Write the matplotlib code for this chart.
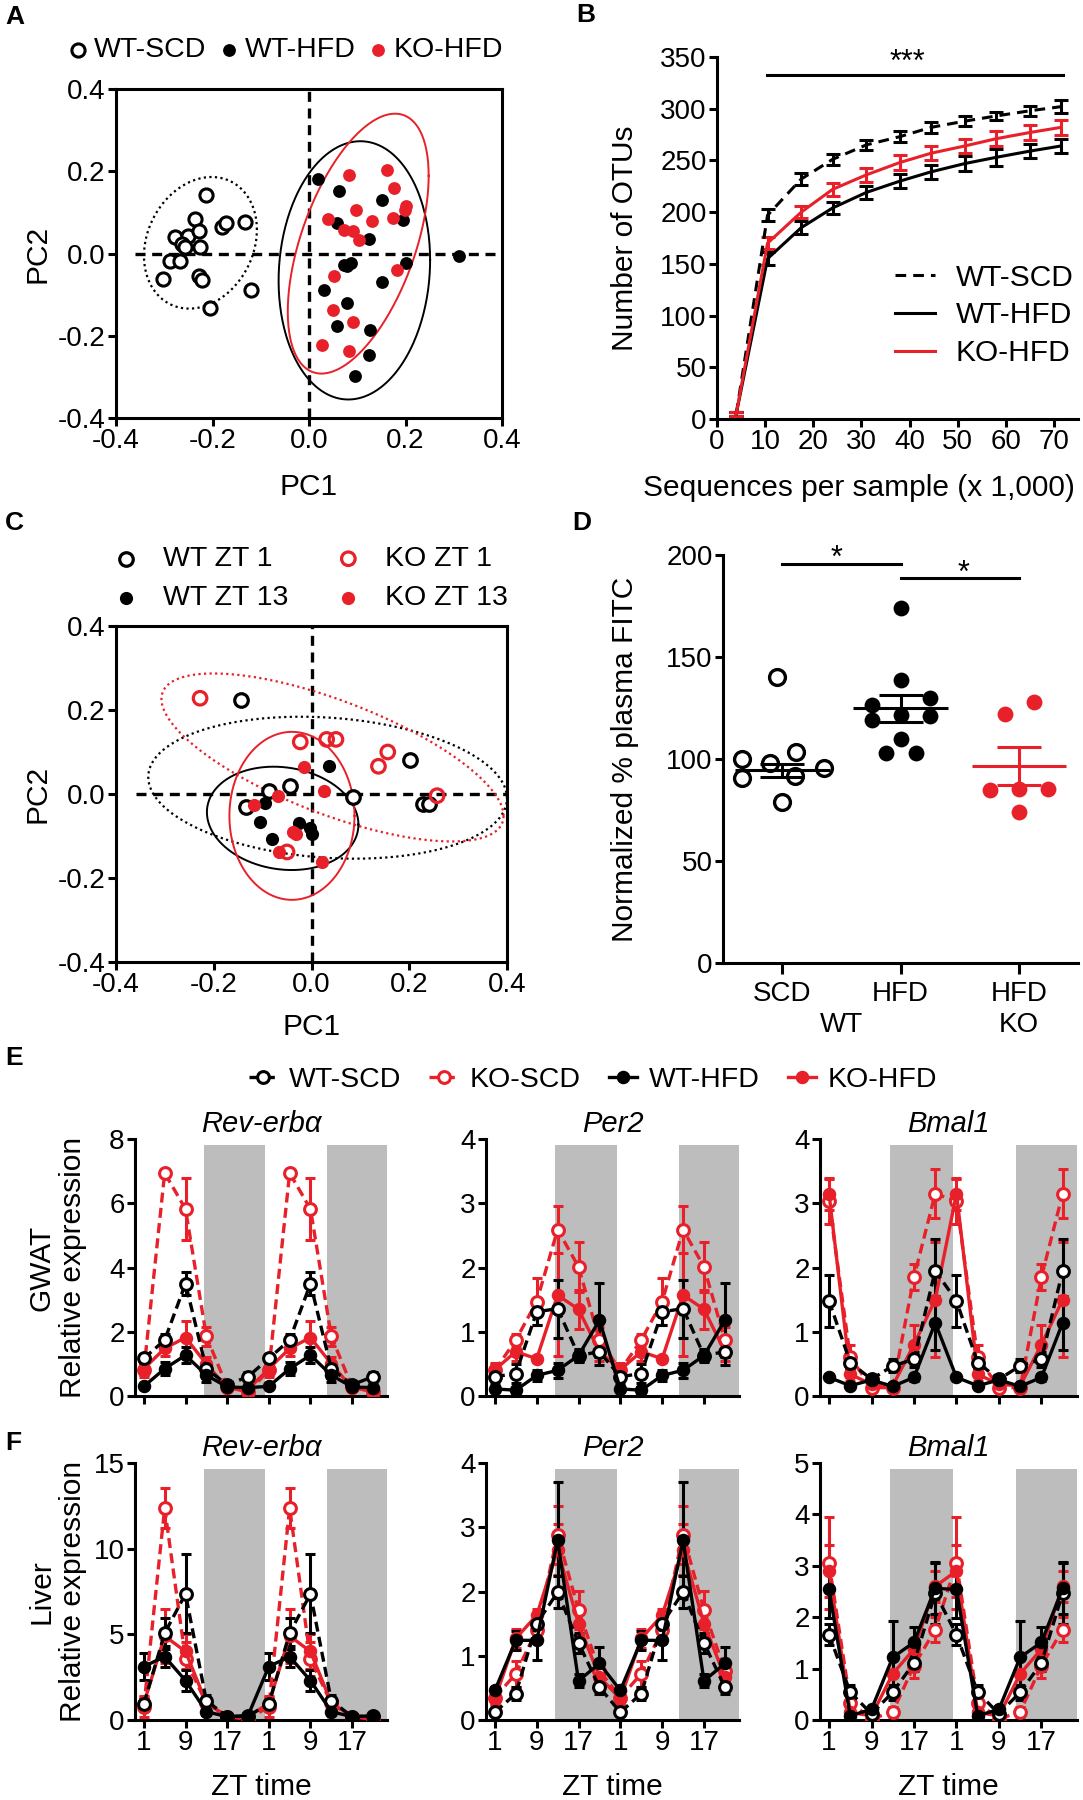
import matplotlib

matplotlib.use("Agg")

import matplotlib.pyplot as plt
import numpy as np

# ---------------- panel A: PCA by diet ----------------
A_WT_SCD_PC1 = [-0.213, -0.236, -0.278, -0.250, -0.228, -0.264, -0.257, -0.226, -0.181,
                -0.172, -0.132, -0.289, -0.267, -0.302, -0.227, -0.222, -0.121, -0.205]
A_WT_SCD_PC2 = [0.143, 0.084, 0.040, 0.043, 0.054, 0.024, 0.016, 0.016, 0.065,
                0.074, 0.076, -0.019, -0.019, -0.062, -0.054, -0.064, -0.088, -0.133]
A_WT_HFD_PC1 = [0.018, 0.063, 0.151, 0.058, 0.195, 0.125, 0.072, 0.087, 0.078,
                0.200, 0.310, 0.151, 0.032, 0.078, 0.058, 0.127, 0.125, 0.096]
A_WT_HFD_PC2 = [0.182, 0.153, 0.131, 0.073, 0.081, 0.035, -0.029, -0.023, -0.031,
                -0.024, -0.007, -0.070, -0.089, -0.120, -0.177, -0.185, -0.248, -0.299]
A_KO_HFD_PC1 = [0.082, 0.161, 0.177, 0.200, 0.199, 0.098, 0.040, 0.130, 0.175,
                0.072, 0.091, 0.104, 0.182, 0.051, 0.050, 0.092, 0.027, 0.082]
A_KO_HFD_PC2 = [0.192, 0.204, 0.159, 0.115, 0.105, 0.105, 0.084, 0.078, 0.086,
                0.056, 0.054, 0.034, -0.039, -0.055, -0.137, -0.167, -0.222, -0.238]
# confidence ellipses: centre x, centre y, half width, half height, tilt phase
A_ELL_WT_SCD = (-0.225, 0.026, 0.117, 0.160, 0.20)
A_ELL_WT_HFD = (0.094, -0.041, 0.157, 0.314, 0.08)
A_ELL_KO_HFD = (0.102, 0.024, 0.146, 0.316, 0.55)

# ---------------- panel B: rarefaction ----------------
B_SEQS = [4, 10.5, 17.5, 24, 31, 38, 44.5, 51.5, 58, 65, 71.5]
B_WT_SCD = [5, 197, 232, 251, 265, 273, 282, 288, 293, 298, 302]
B_WT_SCD_ERR = [2, 6, 6, 5, 5, 5, 5, 5, 4, 5, 6]
B_WT_HFD = [5, 155, 185, 204, 219, 230, 239, 247, 253, 259, 264]
B_WT_HFD_ERR = [2, 6, 6, 6, 6, 7, 7, 7, 8, 7, 7]
B_KO_HFD = [5, 170, 200, 222, 236, 248, 257, 264, 271, 277, 282]
B_KO_HFD_ERR = [2, 6, 6, 6, 7, 7, 7, 7, 7, 7, 7]

# ---------------- panel C: PCA by time ----------------
C_WT_ZT1_PC1 = [-0.145, -0.086, -0.045, -0.134, 0.085, 0.201, 0.228, 0.240]
C_WT_ZT1_PC2 = [0.225, 0.007, 0.019, -0.032, -0.007, 0.081, -0.024, -0.024]
C_KO_ZT1_PC1 = [-0.228, -0.023, 0.031, 0.050, 0.137, 0.156, 0.257, -0.050]
C_KO_ZT1_PC2 = [0.228, 0.124, 0.130, 0.130, 0.066, 0.100, -0.004, -0.138]
C_WT_ZT13_PC1 = [0.035, -0.095, -0.105, -0.081, -0.025, -0.003, 0.001]
C_WT_ZT13_PC2 = [0.066, -0.021, -0.066, -0.106, -0.069, -0.082, -0.096]
C_KO_ZT13_PC1 = [-0.016, 0.025, -0.068, -0.117, -0.037, -0.031, -0.066, 0.021]
C_KO_ZT13_PC2 = [0.065, 0.007, -0.005, -0.027, -0.090, -0.096, -0.138, -0.162]
C_ELL_WT_ZT1 = (0.033, 0.015, 0.367, 0.169, -0.15)
C_ELL_KO_ZT1 = (0.043, 0.087, 0.350, 0.200, -0.77)
C_ELL_WT_ZT13 = (-0.059, -0.058, 0.155, 0.123, -0.12)
C_ELL_KO_ZT13 = (-0.040, -0.052, 0.128, 0.200, 0.0)

# ---------------- panel D: FITC ----------------
D_GROUPS = ["SCD", "HFD", "HFD"]
D_SCD_JITTER = [-0.04, -0.34, -0.10, 0.12, 0.35, -0.34, 0.11, 0.0]
D_SCD = [140.3, 99.8, 97.8, 103.5, 95.8, 90.9, 91.6, 79]
D_HFD_JITTER = [0, 0, -0.24, 0.25, -0.24, 0, 0.25, 0, -0.12, 0.13]
D_HFD = [173.8, 138.7, 126.4, 129.7, 119, 121.5, 121, 110, 103, 103]
D_KO_JITTER = [-0.12, 0.13, -0.24, 0, 0.25, 0]
D_KO = [122, 127.7, 85, 85.5, 85.5, 74]
D_MEAN = [94.5, 124.8, 96.6]
D_SEM = [3.2, 6.7, 9.2]

# ---------------- panels E/F: clock genes ----------------
ZT = [1, 5, 9, 13, 17, 21]
ZT_TICKS = [1, 9, 17, 25, 33, 41]
ZT_TICK_LABELS = ["1", "9", "17", "1", "9", "17"]
DARK_PERIODS = [(12.5, 24.3), (36.2, 48.5)]
GROUPS = ["WT-SCD", "KO-SCD", "WT-HFD", "KO-HFD"]

GWAT_REV = [[1.17, 1.74, 3.50, 0.85, 0.35, 0.60], [0.80, 6.94, 5.82, 1.86, 0.28, 0.12],
            [0.30, 0.85, 1.27, 0.65, 0.28, 0.26], [0.85, 1.48, 1.82, 1.00, 0.25, 0.20]]
GWAT_REV_SEM = [[0.15, 0.2, 0.35, 0.2, 0.1, 0.15], [0.2, 0.05, 0.96, 0.3, 0.1, 0.05],
                [0.05, 0.2, 0.25, 0.2, 0.05, 0.05], [0.2, 0.25, 0.5, 0.2, 0.05, 0.05]]
GWAT_PER2 = [[0.30, 0.35, 1.31, 1.36, 0.63, 0.69], [0.40, 0.87, 1.47, 2.59, 2.01, 0.87],
             [0.11, 0.09, 0.32, 0.40, 0.63, 1.18], [0.41, 0.69, 0.58, 1.57, 1.35, 0.69]]
GWAT_PER2_SEM = [[0.1, 0.15, 0.2, 0.45, 0.1, 0.2], [0.1, 0.1, 0.37, 0.37, 0.39, 0.2],
                 [0.05, 0.05, 0.08, 0.12, 0.08, 0.58], [0.1, 0.15, 0.05, 0.95, 0.3, 0.15]]
GWAT_BMAL1 = [[1.48, 0.52, 0.26, 0.47, 0.57, 1.95], [3.03, 0.60, 0.13, 0.13, 1.85, 3.15],
              [0.29, 0.16, 0.25, 0.15, 0.29, 1.14], [3.15, 0.34, 0.18, 0.16, 0.80, 1.50]]
GWAT_BMAL1_SEM = [[0.4, 0.1, 0.05, 0.1, 0.12, 0.5], [0.35, 0.2, 0.05, 0.05, 0.2, 0.38],
                  [0.03, 0.03, 0.05, 0.03, 0.05, 0.42], [0.25, 0.1, 0.05, 0.05, 0.3, 0.9]]

LIVER_REV = [[0.94, 5.07, 7.36, 1.13, 0.20, 0.23], [0.78, 12.37, 3.55, 0.97, 0.19, 0.04],
             [3.12, 3.70, 2.30, 0.49, 0.19, 0.25], [0.97, 4.90, 4.00, 1.00, 0.20, 0.20]]
LIVER_REV_SEM = [[0.3, 0.9, 2.3, 0.3, 0.05, 0.05], [0.6, 1.15, 1.0, 0.3, 0.05, 0.03],
                 [0.8, 0.6, 0.6, 0.2, 0.05, 0.05], [0.4, 1.6, 1.0, 0.3, 0.05, 0.05]]
LIVER_PER2 = [[0.12, 0.41, 1.50, 1.99, 1.20, 0.51], [0.35, 0.72, 1.40, 2.88, 1.71, 0.77],
              [0.46, 1.24, 1.24, 2.80, 0.61, 0.88], [0.33, 1.27, 1.63, 2.65, 1.50, 0.67]]
LIVER_PER2_SEM = [[0.05, 0.1, 0.15, 0.25, 0.15, 0.1], [0.1, 0.2, 0.2, 0.45, 0.3, 0.15],
                  [0.05, 0.15, 0.3, 0.9, 0.1, 0.25], [0.1, 0.15, 0.1, 0.4, 0.2, 0.15]]
LIVER_BMAL1 = [[1.66, 0.54, 0.12, 0.54, 1.11, 2.47], [3.05, 0.34, 0.02, 0.16, 1.06, 1.76],
               [2.54, 0.08, 0.21, 1.22, 1.51, 2.56], [2.90, 0.15, 0.08, 0.90, 1.38, 2.60]]
LIVER_BMAL1_SEM = [[0.2, 0.15, 0.05, 0.15, 0.15, 0.6], [0.9, 0.2, 0.02, 0.1, 0.25, 0.25],
                   [0.55, 0.05, 0.05, 0.7, 0.3, 0.5], [0.5, 0.05, 0.05, 0.3, 0.2, 0.3]]

W, H = 1083, 1800
RED = "#e8202a"
SHADE = "#bdbdbd"
LW = 2.2
DASH = (0, (3, 2))
DOT = (0, (1, 1.5))

plt.rcParams["font.family"] = ["Liberation Sans", "DejaVu Sans"]
plt.rcParams["axes.linewidth"] = LW
plt.rcParams["xtick.major.width"] = LW
plt.rcParams["ytick.major.width"] = LW
plt.rcParams["xtick.major.size"] = 5.5
plt.rcParams["ytick.major.size"] = 5.5
plt.rcParams["xtick.labelsize"] = 20
plt.rcParams["ytick.labelsize"] = 20
plt.rcParams["axes.labelsize"] = 21.5

fig = plt.figure(figsize=(W / 100, H / 100), dpi=100)


def add_axes_px(box):
    left, top, right, bottom = box
    return fig.add_axes([left / W, 1 - bottom / H, (right - left) / W, (bottom - top) / H])


def place_labels(ax, box, xlabel=None, x_y=None, ylabel=None, y_x=None, x_x=None):
    left, top, right, bottom = box
    if xlabel is not None:
        ax.set_xlabel(xlabel, va="center")
        xf = 0.5 if x_x is None else (x_x - left) / (right - left)
        ax.xaxis.set_label_coords(xf, (bottom - x_y) / (bottom - top))
    if ylabel is not None:
        ax.set_ylabel(ylabel, va="center")
        ax.yaxis.set_label_coords((y_x - left) / (right - left), 0.5)


def draw_ellipse(ax, params, **kw):
    cx, cy, rx, ry, phi = params
    t = np.linspace(0, 2 * np.pi, 300)
    ax.plot(cx + rx * np.cos(t), cy + ry * np.sin(t + phi), **kw)


def pca_frame(ax):
    ticks = [-0.4, -0.2, 0.0, 0.2, 0.4]
    ax.set_xlim(-0.4, 0.4)
    ax.set_ylim(-0.4, 0.4)
    ax.set_xticks(ticks)
    ax.set_yticks(ticks)
    ax.set_xticklabels([f"{t:.1f}" for t in ticks])
    ax.set_yticklabels([f"{t:.1f}" for t in ticks])
    ax.tick_params(pad=2)
    ax.hlines(0, -0.36, 0.4, colors="black", linestyles=DASH, lw=2.4, zorder=1)
    ax.vlines(0, -0.4, 0.4, colors="black", linestyles=DASH, lw=2.4, zorder=1)


def panel_letter(text, x, y):
    fig.text(x / W, 1 - y / H, text, fontsize=19, fontweight="bold", ha="left", va="center")


# ---------------- A ----------------
A_BOX = (116, 89, 502, 418)
ax = add_axes_px(A_BOX)
pca_frame(ax)
draw_ellipse(ax, A_ELL_WT_SCD, color="black", lw=1.6, ls=DOT)
draw_ellipse(ax, A_ELL_WT_HFD, color="black", lw=1.4)
draw_ellipse(ax, A_ELL_KO_HFD, color=RED, lw=1.4)
h1 = ax.scatter(A_WT_SCD_PC1, A_WT_SCD_PC2, s=90, facecolors="white", edgecolors="black",
                linewidths=2.2, zorder=3)
h2 = ax.scatter(A_WT_HFD_PC1, A_WT_HFD_PC2, s=85, color="black", lw=0, zorder=3)
h3 = ax.scatter(A_KO_HFD_PC1, A_KO_HFD_PC2, s=85, color=RED, lw=0, zorder=4)
ax.legend([h1, h2, h3], ["WT-SCD", "WT-HFD", "KO-HFD"], ncol=3, loc="center",
          bbox_to_anchor=(0.438, 1.118), frameon=False, fontsize=20.5, handletextpad=0.15,
          columnspacing=0.4, handlelength=0.8, borderpad=0)
place_labels(ax, A_BOX, "PC1", 487, "PC2", 37)
panel_letter("A", 5, 17)

# ---------------- B ----------------
B_BOX = (717, 57, 1078, 419)
ax = add_axes_px(B_BOX)
for s in ("top", "right"):
    ax.spines[s].set_visible(False)
ax.errorbar(B_SEQS, B_WT_SCD, yerr=B_WT_SCD_ERR, color="black", ls=(0, (3.5, 2.3)), lw=LW,
            capsize=4.7, capthick=LW, elinewidth=LW, label="WT-SCD")
ax.errorbar(B_SEQS, B_WT_HFD, yerr=B_WT_HFD_ERR, color="black", lw=LW,
            capsize=4.7, capthick=LW, elinewidth=LW, label="WT-HFD")
ax.errorbar(B_SEQS, B_KO_HFD, yerr=B_KO_HFD_ERR, color=RED, lw=LW,
            capsize=4.7, capthick=LW, elinewidth=LW, label="KO-HFD")
ax.set_xlim(0, 75)
ax.set_ylim(0, 350)
ax.set_xticks(range(0, 71, 10))
ax.set_yticks(range(0, 351, 50))
ax.tick_params(pad=2)
ax.plot([10.4, 71.9], [333, 333], color="black", lw=LW, clip_on=False)
ax.text(39.6, 337, "***", ha="center", va="baseline", fontsize=22, clip_on=False)
handles, labels = ax.get_legend_handles_labels()
ax.legend([h[0] for h in handles], labels, loc="center", bbox_to_anchor=(0.74, 0.286),
          frameon=False, fontsize=21.5, handlelength=1.35, handletextpad=0.7,
          labelspacing=0.32, borderpad=0)
place_labels(ax, B_BOX, "Sequences per sample (x 1,000)", 488, "Number of OTUs", 625,
             x_x=859)
panel_letter("B", 576, 15)

# ---------------- C ----------------
C_BOX = (116, 626, 507, 962)
ax = add_axes_px(C_BOX)
pca_frame(ax)
draw_ellipse(ax, C_ELL_WT_ZT1, color="black", lw=1.6, ls=DOT)
draw_ellipse(ax, C_ELL_KO_ZT1, color=RED, lw=1.6, ls=DOT)
draw_ellipse(ax, C_ELL_WT_ZT13, color="black", lw=1.4)
draw_ellipse(ax, C_ELL_KO_ZT13, color=RED, lw=1.4)
c1 = ax.scatter(C_WT_ZT1_PC1, C_WT_ZT1_PC2, s=95, facecolors="white", edgecolors="black",
                linewidths=2.3, zorder=3)
c3 = ax.scatter(C_WT_ZT13_PC1, C_WT_ZT13_PC2, s=90, color="black", lw=0, zorder=3)
c4 = ax.scatter(C_KO_ZT13_PC1, C_KO_ZT13_PC2, s=90, color=RED, lw=0, zorder=4)
c2 = ax.scatter(C_KO_ZT1_PC1, C_KO_ZT1_PC2, s=95, facecolors="none", edgecolors=RED,
                linewidths=2.3, zorder=5)
ax.legend([c1, c3, c2, c4], ["WT ZT 1", "WT ZT 13", "KO ZT 1", "KO ZT 13"], ncol=2,
          loc="center", bbox_to_anchor=(0.5, 1.141), frameon=False, fontsize=20.5,
          handletextpad=0.9, columnspacing=1.7, handlelength=0.8, labelspacing=0.45,
          borderpad=0)
place_labels(ax, C_BOX, "PC1", 1027, "PC2", 37)
panel_letter("C", 5, 523)

# ---------------- D ----------------
D_BOX = (723, 555, 1078, 963)
ax = add_axes_px(D_BOX)
for s in ("top", "right"):
    ax.spines[s].set_visible(False)
ax.scatter(np.add(0, D_SCD_JITTER), D_SCD, s=130, facecolors="white", edgecolors="black",
           linewidths=2.4, zorder=3)
ax.scatter(np.add(1, D_HFD_JITTER), D_HFD, s=130, color="black", lw=0, zorder=3)
ax.scatter(np.add(2, D_KO_JITTER), D_KO, s=130, color=RED, lw=0, zorder=3)
for i, colour in enumerate(["black", "black", RED]):
    ax.hlines(D_MEAN[i], i - 0.4, i + 0.4, colors=colour, lw=LW, zorder=4)
    ax.errorbar(i, D_MEAN[i], yerr=D_SEM[i], color=colour, capsize=15.5, capthick=LW,
                elinewidth=LW, zorder=4)
ax.set_xlim(-0.5, 2.5)
ax.set_ylim(0, 200)
ax.set_yticks(range(0, 201, 50))
ax.set_xticks(range(len(D_GROUPS)))
ax.set_xticklabels(D_GROUPS)
ax.tick_params(axis="x", length=8, pad=5)
ax.tick_params(axis="y", pad=2)
ax.annotate("WT", xy=(0.5, 0), xycoords=("data", "axes fraction"), xytext=(0, -62 * 0.72),
            textcoords="offset points", ha="center", va="center", fontsize=20)
ax.annotate("KO", xy=(2, 0), xycoords=("data", "axes fraction"), xytext=(0, -62 * 0.72),
            textcoords="offset points", ha="center", va="center", fontsize=20)
ax.plot([0, 1], [195.5, 195.5], color="black", lw=LW, clip_on=False)
ax.plot([1, 2], [188.5, 188.5], color="black", lw=LW, clip_on=False)
ax.text(0.46, 194, "*", ha="center", va="baseline", fontsize=22, clip_on=False)
ax.text(1.53, 187, "*", ha="center", va="baseline", fontsize=22, clip_on=False)
place_labels(ax, D_BOX, ylabel="Normalized % plasma FITC", y_x=625)
panel_letter("D", 572, 523)

# ---------------- E / F ----------------
CLOCK_DASH = (0, (3, 1.6))
STYLES = {
    "WT-SCD": dict(color="black", ls=CLOCK_DASH, mfc="white", ms=8.5),
    "KO-SCD": dict(color=RED, ls=CLOCK_DASH, mfc="white", ms=8.5),
    "WT-HFD": dict(color="black", ls="-", mfc="black", ms=7.5),
    "KO-HFD": dict(color=RED, ls="-", mfc=RED, ms=7.5),
}
DRAW_ORDER = [1, 3, 0, 2]
COLS = [(135, 387), (486, 739), (820, 1077)]
ROWS = {"E": (1139, 1396), "F": (1463, 1720)}

x_days = ZT + [z + 24 for z in ZT]
legend_handles = {}


def clock_panel(box, ymax, yticks, means, sems, title, show_xlabels):
    ax = add_axes_px(box)
    for s in ("top", "right"):
        ax.spines[s].set_visible(False)
    for start, end in DARK_PERIODS:
        ax.axvspan(start, end, ymin=0, ymax=0.975, color=SHADE, lw=0, zorder=0)
    for gi in DRAW_ORDER:
        name = GROUPS[gi]
        st = STYLES[name]
        line = ax.errorbar(x_days, means[gi] + means[gi], yerr=sems[gi] + sems[gi],
                           color=st["color"], ls=st["ls"], lw=2.4, marker="o", ms=st["ms"],
                           mfc=st["mfc"], mec=st["color"], mew=2.2, capsize=3.4,
                           capthick=2.2, elinewidth=2.2, zorder=3)
        legend_handles[name] = line[0]
    ax.set_xlim(-0.7, 47.7)
    ax.set_ylim(0, ymax)
    ax.set_yticks(yticks)
    ax.set_xticks(ZT_TICKS)
    if show_xlabels:
        ax.set_xticklabels(ZT_TICK_LABELS)
    else:
        ax.set_xticklabels([])
    ax.tick_params(pad=2)
    ax.set_title(title, fontsize=21, style="italic", pad=5)
    return ax


E_PANELS = [(8, [0, 2, 4, 6, 8], GWAT_REV, GWAT_REV_SEM, "Rev-erbα"),
            (4, [0, 1, 2, 3, 4], GWAT_PER2, GWAT_PER2_SEM, "Per2"),
            (4, [0, 1, 2, 3, 4], GWAT_BMAL1, GWAT_BMAL1_SEM, "Bmal1")]
F_PANELS = [(15, [0, 5, 10, 15], LIVER_REV, LIVER_REV_SEM, "Rev-erbα"),
            (4, [0, 1, 2, 3, 4], LIVER_PER2, LIVER_PER2_SEM, "Per2"),
            (5, [0, 1, 2, 3, 4, 5], LIVER_BMAL1, LIVER_BMAL1_SEM, "Bmal1")]

for (left, right), (ymax, yt, m, s, title) in zip(COLS, E_PANELS):
    top, bottom = ROWS["E"]
    clock_panel((left, top, right, bottom), ymax, yt, m, s, title, False)

for (left, right), (ymax, yt, m, s, title) in zip(COLS, F_PANELS):
    top, bottom = ROWS["F"]
    box = (left, top, right, bottom)
    ax = clock_panel(box, ymax, yt, m, s, title, True)
    place_labels(ax, box, xlabel="ZT time", x_y=1787)

for row, tissue in (("E", "GWAT"), ("F", "Liver")):
    top, bottom = ROWS[row]
    fig.text(57 / W, 1 - (top + bottom) / 2 / H, f"{tissue}\nRelative expression",
             rotation=90, ha="center", va="center", fontsize=21.5, linespacing=1.15)

fig.legend([legend_handles[g] for g in GROUPS], GROUPS, ncol=4, loc="center",
           bbox_to_anchor=(593 / W, 1 - 1080 / H), frameon=False, fontsize=20.5,
           handlelength=1.0, handletextpad=0.4, columnspacing=1.0, borderpad=0)
panel_letter("E", 5, 1058)
panel_letter("F", 5, 1443)

fig.savefig("out.png", dpi=100)
